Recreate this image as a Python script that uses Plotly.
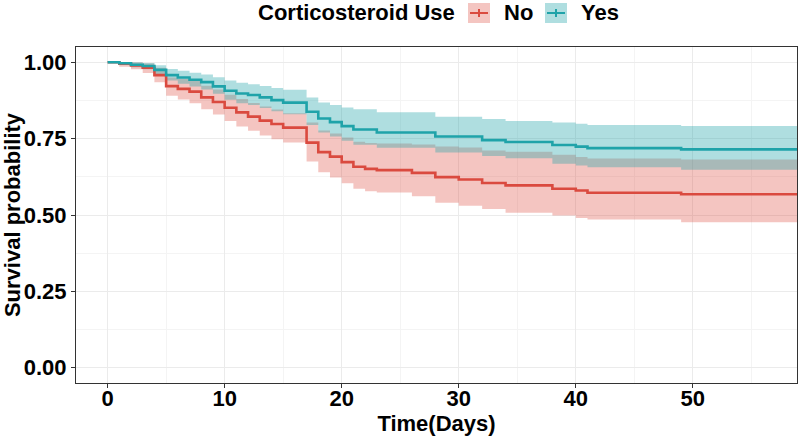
import plotly.graph_objects as go

# ---- data ----
no_time = [0, 1, 2, 3, 4, 5, 6, 7, 8, 9, 10, 11, 12, 13, 14, 15,
           17, 18, 19, 20, 21, 22, 23,
           26, 28, 30, 32, 34, 38, 40, 41, 49, 60]
no_surv = [1.0, 0.995, 0.99, 0.982, 0.958, 0.922, 0.913, 0.904, 0.885, 0.87, 0.851, 0.836, 0.822, 0.809, 0.798, 0.786,
           0.737, 0.706, 0.691, 0.673, 0.658, 0.651, 0.647,
           0.638, 0.624, 0.616, 0.605, 0.597, 0.586, 0.580, 0.573, 0.568, 0.568]
no_upper = [1.0, 1.0, 0.999, 0.996, 0.982, 0.95, 0.945, 0.94, 0.923, 0.911, 0.894, 0.88, 0.867, 0.855, 0.845, 0.833,
            0.803, 0.777, 0.767, 0.754, 0.74, 0.736, 0.734,
            0.731, 0.724, 0.721, 0.711, 0.707, 0.697, 0.69, 0.685, 0.682, 0.682]
no_lower = [1.0, 0.985, 0.977, 0.965, 0.935, 0.89, 0.878, 0.866, 0.846, 0.829, 0.808, 0.79, 0.776, 0.76, 0.748, 0.737,
            0.675, 0.64, 0.623, 0.604, 0.586, 0.578, 0.574,
            0.561, 0.54, 0.53, 0.52, 0.507, 0.498, 0.49, 0.485, 0.476, 0.476]

yes_time = [0, 1, 2, 3, 4, 5, 6, 7, 8, 9, 10, 11, 12, 13, 14, 15,
            17, 18, 19, 20, 21, 23,
            28, 32, 34, 38, 40, 41, 49, 60]
yes_surv = [1.0, 0.997, 0.992, 0.988, 0.975, 0.958, 0.95, 0.943, 0.935, 0.921, 0.907, 0.898, 0.893, 0.885, 0.876, 0.868,
            0.838, 0.816, 0.804, 0.791, 0.78, 0.77,
            0.757, 0.745, 0.739, 0.729, 0.724, 0.719, 0.715, 0.715]
yes_upper = [1.0, 1.0, 1.0, 0.998, 0.99, 0.978, 0.972, 0.966, 0.96, 0.951, 0.94, 0.933, 0.928, 0.922, 0.916, 0.91,
             0.885, 0.868, 0.86, 0.852, 0.846, 0.836,
             0.822, 0.814, 0.808, 0.803, 0.799, 0.795, 0.791, 0.791]
yes_lower = [1.0, 0.991, 0.984, 0.977, 0.96, 0.94, 0.93, 0.921, 0.911, 0.897, 0.877, 0.866, 0.86, 0.85, 0.84, 0.83,
             0.795, 0.77, 0.757, 0.743, 0.73, 0.72,
             0.705, 0.693, 0.686, 0.668, 0.662, 0.656, 0.648, 0.648]

y_ticks = [0, 0.25, 0.5, 0.75, 1.0]
y_ticklabels = ["0.00", "0.25", "0.50", "0.75", "1.00"]
x_ticks = [0, 10, 20, 30, 40, 50]

legend_title = "Corticosteroid Use"
group_names = ["No", "Yes"]

RED = "#DA4A3F"
TEAL = "#1FA3A9"
RED_FILL = "rgba(220,74,63,0.32)"
TEAL_FILL = "rgba(32,164,170,0.36)"
FONT = "Liberation Sans, Arial, Helvetica, sans-serif"

fig = go.Figure()

def add_band(t, lo, hi, fill):
    fig.add_trace(go.Scatter(x=t, y=hi, mode="lines", line=dict(width=0, shape="hv"),
                             showlegend=False, hoverinfo="skip"))
    fig.add_trace(go.Scatter(x=t, y=lo, mode="lines", line=dict(width=0, shape="hv"),
                             fill="tonexty", fillcolor=fill, showlegend=False, hoverinfo="skip"))

add_band(no_time, no_lower, no_upper, RED_FILL)
add_band(yes_time, yes_lower, yes_upper, TEAL_FILL)

fig.add_trace(go.Scatter(x=no_time, y=no_surv, mode="lines", name=group_names[0],
                         line=dict(color=RED, width=2.6, shape="hv"), showlegend=False))
fig.add_trace(go.Scatter(x=yes_time, y=yes_surv, mode="lines", name=group_names[1],
                         line=dict(color=TEAL, width=2.6, shape="hv"), showlegend=False))

# ---- manual legend (ggplot style, at top) ----
W, H = 800, 437
ML, MR, MT, MB = 76, 3, 47, 54
PW, PH = W - ML - MR, H - MT - MB

def px(x):
    return (x - ML) / PW

def py(y):
    return (H - MB - y) / PH

shapes = []
annotations = []
annotations.append(dict(text="<b>" + legend_title + "</b>", x=px(457), y=py(13), xref="paper", yref="paper",
                        xanchor="right", yanchor="middle", showarrow=False,
                        font=dict(family=FONT, size=22, color="black")))
for (x0, name, lc, fc) in [(468, group_names[0], RED, RED_FILL), (545, group_names[1], TEAL, TEAL_FILL)]:
    shapes.append(dict(type="rect", xref="paper", yref="paper", x0=px(x0), x1=px(x0 + 22),
                       y0=py(23), y1=py(3), fillcolor=fc, line=dict(width=0)))
    shapes.append(dict(type="line", xref="paper", yref="paper", x0=px(x0 + 2), x1=px(x0 + 20),
                       y0=py(13), y1=py(13), line=dict(color=lc, width=2)))
    shapes.append(dict(type="line", xref="paper", yref="paper", x0=px(x0 + 11), x1=px(x0 + 11),
                       y0=py(17), y1=py(9), line=dict(color=lc, width=2)))
    annotations.append(dict(text="<b>" + name + "</b>", x=px(x0 + 34), y=py(13), xref="paper", yref="paper",
                            xanchor="left", yanchor="middle", showarrow=False,
                            font=dict(family=FONT, size=22, color="black")))

fig.update_layout(
    width=W, height=H,
    margin=dict(l=ML, r=MR, t=MT, b=MB, autoexpand=False),
    paper_bgcolor="white", plot_bgcolor="white",
    shapes=shapes, annotations=annotations,
    showlegend=False,
    font=dict(family=FONT, color="black"),
)

fig.update_xaxes(
    range=[-2.7, 58.9], tickvals=x_ticks, ticks="outside", ticklen=4, tickcolor="#333333",
    tickfont=dict(family=FONT, size=22, color="black", weight="bold"), ticklabelstandoff=-8,
    showgrid=True, gridcolor="#EBEBEB", gridwidth=1,
    minor=dict(dtick=5, tick0=0, showgrid=True, gridcolor="#F4F4F4", gridwidth=0.6),
    showline=True, linecolor="#333333", linewidth=1, mirror=True, zeroline=False, automargin=False,
    title=dict(text="<b>Time(Days)</b>", font=dict(family=FONT, size=22, color="black"), standoff=0),
)
fig.update_yaxes(
    range=[-0.05, 1.05], tickvals=y_ticks, ticktext=y_ticklabels, ticks="outside", ticklen=4, tickcolor="#333333",
    tickfont=dict(family=FONT, size=22, color="black", weight="bold"),
    showgrid=True, gridcolor="#EBEBEB", gridwidth=1,
    minor=dict(dtick=0.125, tick0=0, showgrid=True, gridcolor="#F4F4F4", gridwidth=0.6),
    showline=True, linecolor="#333333", linewidth=1, mirror=True, zeroline=False, automargin=False,
    title=dict(text="<b>Survival probability</b>", font=dict(family=FONT, size=22, color="black"), standoff=0),
)

fig.write_html("out.html", config={"displayModeBar": False},
               post_script="document.body.style.margin='0';")
